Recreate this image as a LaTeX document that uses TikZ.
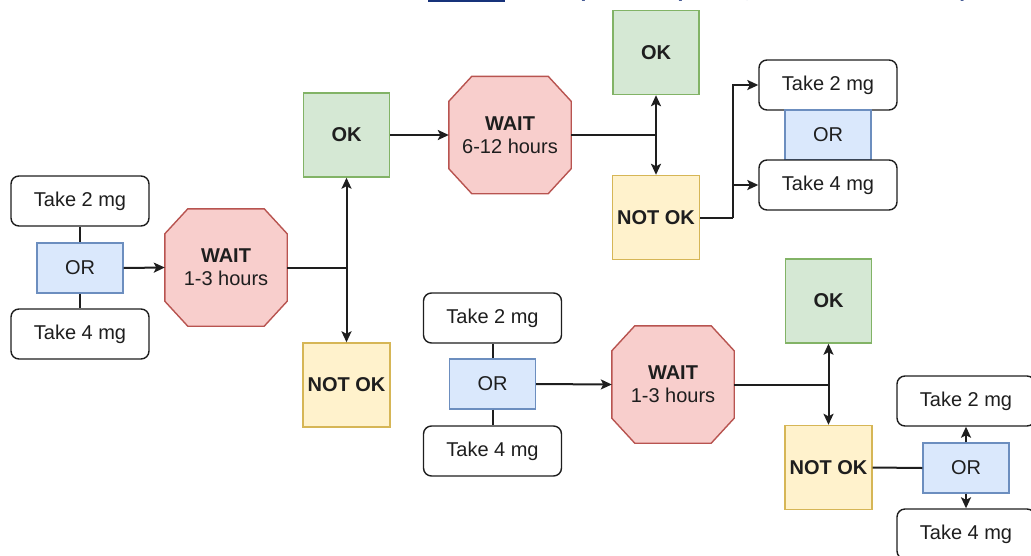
\documentclass[tikz,border=0pt]{standalone}
\usepackage{fontspec}
\setmainfont{Liberation Sans}
\newfontfamily\headfont{Carlito}
\usetikzlibrary{arrows.meta,backgrounds,calc}

\definecolor{okfill}{HTML}{D5E8D4}   \definecolor{okline}{HTML}{82B366}
\definecolor{nofill}{HTML}{FFF2CC}   \definecolor{noline}{HTML}{D6B656}
\definecolor{waitfill}{HTML}{F8CECC} \definecolor{waitline}{HTML}{B85450}
\definecolor{orfill}{HTML}{DAE8FC}   \definecolor{orline}{HTML}{6C8EBF}
\definecolor{ink}{HTML}{1E1E1E}
\definecolor{linkblue}{HTML}{17327A}

% octagonal outline drawn around a named (invisible) rectangle node
\newcommand\octagon[1]{%
  \path[octline]
    ([xshift=23pt]#1.north west) -- ([xshift=-23pt]#1.north east)
    -- ([yshift=-25pt]#1.north east) -- ([yshift=25pt]#1.south east)
    -- ([xshift=-23pt]#1.south east) -- ([xshift=23pt]#1.south west)
    -- ([yshift=25pt]#1.south west) -- ([yshift=-25pt]#1.north west) -- cycle;}

\begin{document}
\begin{tikzpicture}[x=1pt,y=-1pt,
  every node/.style={font=\fontsize{20}{23}\selectfont, text=ink, inner sep=0pt},
  dose/.style={draw=ink, line width=1.4pt, rounded corners=8pt, fill=white,
               minimum width=138pt, minimum height=50pt},
  orbox/.style={draw=orline, fill=orfill, line width=1.4pt,
                minimum width=86pt, minimum height=50pt},
  okbox/.style={draw=okline, fill=okfill, line width=1.4pt,
                minimum width=86pt, minimum height=84pt,
                font=\fontsize{20}{23}\selectfont\bfseries},
  nokbox/.style={draw=noline, fill=nofill, line width=1.4pt,
                 minimum width=87pt, minimum height=84pt,
                 font=\fontsize{20}{23}\selectfont\bfseries},
  waitnode/.style={minimum width=122pt, minimum height=117pt, align=center},
  octline/.style={draw=waitline, fill=waitfill, line width=1.4pt},
  link/.style={line width=2pt, draw=ink},
  arr/.style={link, -{Stealth[length=11pt,width=10pt,inset=2.5pt]}},
]
\useasboundingbox (0,0) rectangle (1031,555);
\clip (0,0) rectangle (1031,555);

% descenders of the heading line above the chart
\begin{scope}[every node/.style={font=\headfont\bfseries\fontsize{24}{28}\selectfont,
                                 text=linkblue, inner sep=0pt, anchor=base}]
  \draw[linkblue, line width=2.4pt] (428,1.2) -- (505,1.2);
  \node (hg) at (500,-3) {g};
  \node (hp1) at (587,-3) {p};
  \node (hp2) at (684,-3) {p};
  \node (hc) at (748,-3) {,};
  \node (hy) at (964,-3) {y};
\end{scope}

% first dose choice
\node[dose]  (t2a) at (80,201) {Take 2 mg};
\node[orbox] (or1) at (80,268) {OR};
\node[dose]  (t4a) at (80,334) {Take 4 mg};
\node[waitnode] (w1) at (226,267.5) {\textbf{WAIT}\\1-3 hours};
\node[okbox]  (ok1)  at (346.5,135) {OK};
\node[nokbox] (nok1) at (346.5,385) {NOT OK};

% second wait after OK
\node[waitnode] (w2) at (510,135) {\textbf{WAIT}\\6-12 hours};
\node[okbox]  (ok2)  at (656,52.5) {OK};
\node[nokbox] (nok2) at (656,217.5) {NOT OK};
\node[dose]  (t2b) at (828,85) {Take 2 mg};
\node[orbox] (or2) at (828,135) {OR};
\node[dose]  (t4b) at (828,185) {Take 4 mg};

% lower branch
\node[dose]  (t2c) at (492.5,318) {Take 2 mg};
\node[orbox] (or3) at (492.5,384) {OR};
\node[dose]  (t4c) at (492.5,451) {Take 4 mg};
\node[waitnode] (w3) at (673,384.5) {\textbf{WAIT}\\1-3 hours};
\node[okbox]  (ok3)  at (828.5,301) {OK};
\node[nokbox] (nok3) at (828.5,467.5) {NOT OK};
\node[orbox] (or4) at (966,468) {OR};
\node[dose]  (t2d) at (966,401) {Take 2 mg};
\node[dose]  (t4d) at (966,534) {Take 4 mg};

\begin{scope}[on background layer]
  \octagon{w1}
  \octagon{w2}
  \octagon{w3}
\end{scope}

% connectors
\draw[link] (t2a.south) -- (or1.north);
\draw[link] (or1.south) -- (t4a.north);
\draw[arr]  (or1.east) -- (w1.west);
\coordinate (j1) at (ok1.south |- w1.east);
\draw[link] (w1.east) -- (j1);
\draw[arr]  (j1) -- (ok1.south);
\draw[arr]  (j1) -- (nok1.north);

\draw[arr]  (ok1.east) -- (w2.west);
\coordinate (j2) at (ok2.south |- w2.east);
\draw[link] (w2.east) -- (j2);
\draw[arr]  (j2) -- (ok2.south);
\draw[arr]  (j2) -- (nok2.north);
\coordinate (j3) at (733,217.5);
\draw[link] (nok2.east) -- (j3);
\draw[arr]  (j3) |- (t2b.west);
\draw[arr]  (j3) |- (t4b.west);

\draw[link] (t2c.south) -- (or3.north);
\draw[link] (or3.south) -- (t4c.north);
\draw[arr]  (or3.east) -- (w3.west);
\coordinate (j4) at (ok3.south |- w3.east);
\draw[link] (w3.east) -- (j4);
\draw[arr]  (j4) -- (ok3.south);
\draw[arr]  (j4) -- (nok3.north);
\draw[link] (nok3.east) -- (or4.west);
\draw[arr]  (or4.north) -- (t2d.south);
\draw[arr]  (or4.south) -- (t4d.north);
\end{tikzpicture}
\end{document}
